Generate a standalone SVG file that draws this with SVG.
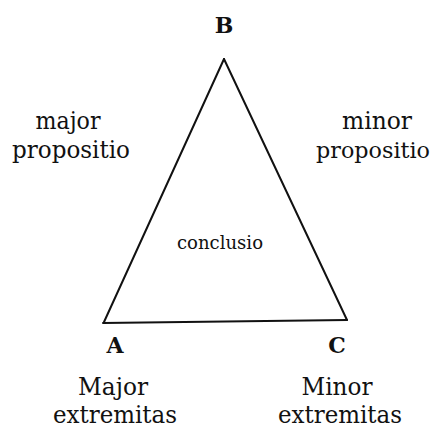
<svg xmlns="http://www.w3.org/2000/svg" width="436" height="430" viewBox="0 0 436 430">
<style>
text{font-family:"DejaVu Serif","Liberation Serif",serif;fill:#111;text-anchor:middle}
.lbl{font-size:24px}
.v{font-size:22px;font-weight:bold}
.c{font-size:19px}
.edge{stroke:#111;stroke-width:2;fill:none;stroke-linecap:round}
</style>
<rect width="436" height="430" fill="#fff"/>
<g id="connectors">
<line class="edge" x1="224" y1="59" x2="104" y2="322"/>
<line class="edge" x1="224" y1="59" x2="347" y2="320"/>
<line class="edge" x1="103" y1="323" x2="347" y2="320"/>
</g>
<g id="nodeB"><text class="v" x="224" y="33">B</text></g>
<g id="nodeA"><text class="v" x="115" y="353">A</text></g>
<g id="nodeC"><text class="v" x="337" y="353">C</text></g>
<g id="majorProp"><text class="lbl" x="68" y="129" textLength="65" lengthAdjust="spacingAndGlyphs">major</text><text class="lbl" x="71" y="158" textLength="118" lengthAdjust="spacingAndGlyphs">propositio</text></g>
<g id="minorProp"><text class="lbl" x="377" y="129" textLength="70" lengthAdjust="spacingAndGlyphs">minor</text><text class="lbl" x="373" y="158" style="font-size:23px" textLength="114" lengthAdjust="spacingAndGlyphs">propositio</text></g>
<g id="conclusio"><text class="c" x="220" y="249" textLength="86" lengthAdjust="spacingAndGlyphs">conclusio</text></g>
<g id="majorExt"><text class="lbl" x="113" y="395" textLength="70" lengthAdjust="spacingAndGlyphs">Major</text><text class="lbl" x="115" y="423" textLength="124" lengthAdjust="spacingAndGlyphs">extremitas</text></g>
<g id="minorExt"><text class="lbl" x="337" y="395" textLength="71" lengthAdjust="spacingAndGlyphs">Minor</text><text class="lbl" x="340" y="423" textLength="124" lengthAdjust="spacingAndGlyphs">extremitas</text></g>
</svg>
